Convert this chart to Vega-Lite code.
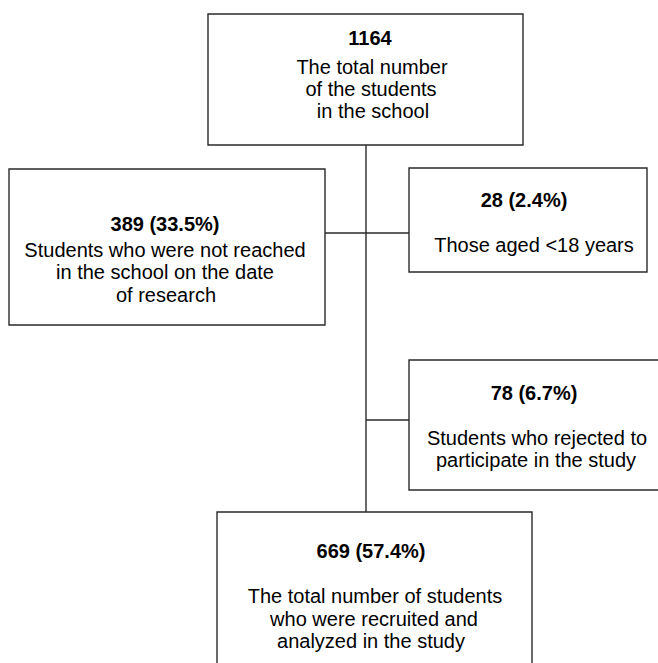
{
  "$schema": "https://vega.github.io/schema/vega-lite/v6.json",
  "width": 658,
  "height": 663,
  "padding": 0,
  "autosize": {"type": "none"},
  "background": "white",
  "config": {"view": {"stroke": null}},
  "datasets": {
    "boxes": [
      {"id": "total", "x1": 208, "x2": 523, "y1": 14, "y2": 145},
      {"id": "notreached", "x1": 9, "x2": 325, "y1": 169, "y2": 325},
      {"id": "aged", "x1": 409, "x2": 647, "y1": 168, "y2": 272},
      {"id": "rejected", "x1": 409, "x2": 672, "y1": 360, "y2": 490},
      {"id": "analyzed", "x1": 217, "x2": 532, "y1": 512, "y2": 680}
    ],
    "links": [
      {"x1": 366, "x2": 366, "y1": 145, "y2": 512},
      {"x1": 325, "x2": 409, "y1": 233, "y2": 233},
      {"x1": 366, "x2": 409, "y1": 420, "y2": 420}
    ],
    "labels": [
      {"kind": "bold", "x": 370, "y": 45, "text": "1164"},
      {"kind": "plain", "x": 372, "y": 74, "text": "The total number"},
      {"kind": "plain", "x": 371, "y": 96, "text": "of the students"},
      {"kind": "plain", "x": 373, "y": 118, "text": "in the school"},
      {"kind": "bold", "x": 165, "y": 231, "text": "389 (33.5%)"},
      {"kind": "plain", "x": 165, "y": 257, "text": "Students who were not reached"},
      {"kind": "plain", "x": 165, "y": 279, "text": "in the school on the date"},
      {"kind": "plain", "x": 166, "y": 302, "text": "of research"},
      {"kind": "bold", "x": 524, "y": 207, "text": "28 (2.4%)"},
      {"kind": "plain", "x": 534, "y": 252, "text": "Those aged <18 years"},
      {"kind": "bold", "x": 534, "y": 400, "text": "78 (6.7%)"},
      {"kind": "plain", "x": 537, "y": 445, "text": "Students who rejected to"},
      {"kind": "plain", "x": 536, "y": 467, "text": "participate in the study"},
      {"kind": "bold", "x": 371, "y": 558, "text": "669 (57.4%)"},
      {"kind": "plain", "x": 375, "y": 603, "text": "The total number of students"},
      {"kind": "plain", "x": 374, "y": 626, "text": "who were recruited and"},
      {"kind": "plain", "x": 371, "y": 648, "text": "analyzed in the study"}
    ]
  },
  "layer": [
    {
      "data": {"name": "links"},
      "mark": {"type": "rule", "stroke": "#2a2a2a", "strokeWidth": 1.4},
      "encoding": {
        "x": {"field": "x1", "type": "quantitative", "scale": {"domain": [0, 658], "nice": false, "zero": false}, "axis": null},
        "x2": {"field": "x2"},
        "y": {"field": "y1", "type": "quantitative", "scale": {"domain": [0, 663], "nice": false, "zero": false, "reverse": true}, "axis": null},
        "y2": {"field": "y2"}
      }
    },
    {
      "data": {"name": "boxes"},
      "mark": {"type": "rect", "fill": "white", "stroke": "#2a2a2a", "strokeWidth": 1.4, "clip": true},
      "encoding": {
        "x": {"field": "x1", "type": "quantitative", "scale": {"domain": [0, 658], "nice": false, "zero": false}, "axis": null},
        "x2": {"field": "x2"},
        "y": {"field": "y1", "type": "quantitative", "scale": {"domain": [0, 663], "nice": false, "zero": false, "reverse": true}, "axis": null},
        "y2": {"field": "y2"}
      }
    },
    {
      "data": {"name": "labels"},
      "transform": [{"filter": "datum.kind === 'bold'"}],
      "mark": {"type": "text", "font": "Liberation Sans", "fontSize": 20, "fontWeight": "bold", "align": "center", "baseline": "alphabetic", "color": "black"},
      "encoding": {
        "x": {"field": "x", "type": "quantitative", "scale": {"domain": [0, 658], "nice": false, "zero": false}, "axis": null},
        "y": {"field": "y", "type": "quantitative", "scale": {"domain": [0, 663], "nice": false, "zero": false, "reverse": true}, "axis": null},
        "text": {"field": "text"}
      }
    },
    {
      "data": {"name": "labels"},
      "transform": [{"filter": "datum.kind === 'plain'"}],
      "mark": {"type": "text", "font": "Liberation Sans", "fontSize": 20, "align": "center", "baseline": "alphabetic", "color": "black"},
      "encoding": {
        "x": {"field": "x", "type": "quantitative", "scale": {"domain": [0, 658], "nice": false, "zero": false}, "axis": null},
        "y": {"field": "y", "type": "quantitative", "scale": {"domain": [0, 663], "nice": false, "zero": false, "reverse": true}, "axis": null},
        "text": {"field": "text"}
      }
    }
  ]
}
